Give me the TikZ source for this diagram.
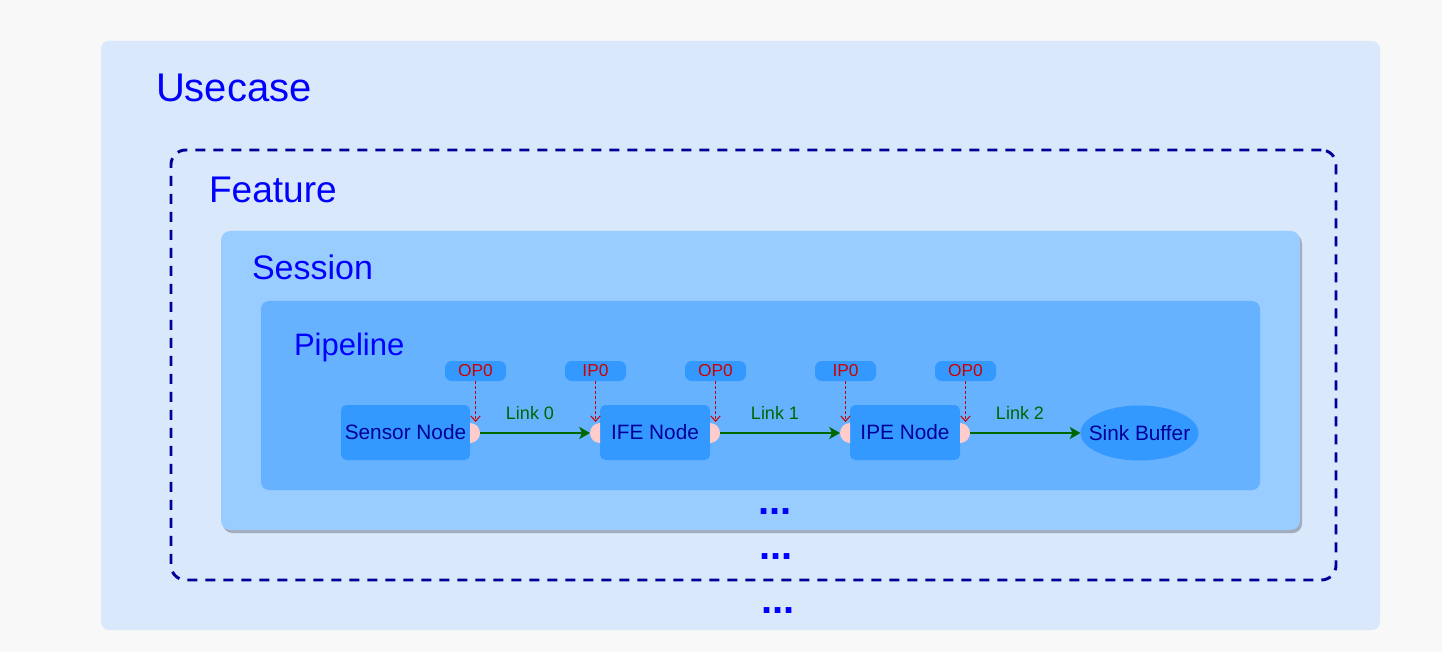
\documentclass[tikz,border=0pt]{standalone}
\usepackage{fontspec}
\setmainfont{Liberation Sans}
\usetikzlibrary{arrows.meta,shapes.geometric}
\definecolor{bgc}{HTML}{F8F8F8}
\definecolor{usecasec}{HTML}{DAE8FC}
\definecolor{sessionc}{HTML}{99CCFF}
\definecolor{pipelinec}{HTML}{66B2FF}
\definecolor{nodec}{HTML}{3399FF}
\definecolor{portc}{HTML}{FFCCCC}
\definecolor{navyc}{HTML}{000099}
\definecolor{titlec}{HTML}{0000FF}
\definecolor{redc}{HTML}{CC0000}
\definecolor{greenc}{HTML}{006600}
\definecolor{shadowc}{HTML}{A3ACBC}
\begin{document}
\begin{tikzpicture}[x=0.75pt,y=-0.75pt,
  box/.style={inner sep=0pt, outer sep=0pt, draw=none},
  title/.style={inner sep=0pt, outer sep=0pt, text=titlec, anchor=base west},
  procnode/.style={box, fill=nodec, rounded corners=4pt, minimum height=41.25pt,
      text=navyc, font=\fontsize{15.6}{18}\selectfont},
  portlabel/.style={box, fill=nodec, rounded corners=5pt, minimum width=45.75pt,
      minimum height=15pt, text=redc, font=\fontsize{13}{15}\selectfont},
  portshape/.style={fill=portc},
  link/.style={draw=greenc, line width=1.5pt, -{Stealth[length=8pt,width=9pt,inset=2pt]}},
  linklabel/.style={inner sep=0pt, text=greenc, font=\fontsize{13.5}{16}\selectfont},
  portarrow/.style={draw=redc, line width=0.75pt, dash pattern=on 2.2pt off 1.6pt,
      -{Straight Barb[length=4pt,width=7pt,line width=0.75pt]}},
  dots/.style={inner sep=0pt, text=titlec, anchor=base, font=\fontsize{30}{36}\selectfont\bfseries}
]
\useasboundingbox (0,0) rectangle (1442,652);
\fill[bgc] (0,0) rectangle (1442,652);

% Usecase
\node[box, fill=usecasec, rounded corners=6pt, minimum width=959.25pt, minimum height=441.75pt]
  (usecase) at (740.5,335.5) {};
\node[title, font=\fontsize{30}{36}\selectfont] (usecaselabel) at (156,102) {Usecase};

% Feature
\node[box, draw=navyc, line width=2.2pt, dash pattern=on 7.5pt off 6pt, rounded corners=11pt,
  minimum width=873.75pt, minimum height=322.5pt] (feature) at (753.5,365) {};
\node[title, font=\fontsize{27.8}{33}\selectfont] (featurelabel) at (209,203) {Feature};

% Session
\node[box, fill=shadowc, rounded corners=7pt, minimum width=809.25pt, minimum height=224.25pt]
  (sessionshadow) at (762.5,383.5) {};
\node[box, fill=sessionc, rounded corners=7pt, minimum width=809.25pt, minimum height=224.25pt]
  (session) at (760.5,380.5) {};
\node[title, font=\fontsize{25.5}{30}\selectfont] (sessionlabel) at (252,280) {Session};

% Pipeline
\node[box, fill=pipelinec, rounded corners=6pt, minimum width=749.25pt, minimum height=141.75pt]
  (pipeline) at (760.5,395.5) {};
\node[title, font=\fontsize{23.25}{28}\selectfont] (pipelinelabel) at (294,355) {Pipeline};

% Processing nodes
\node[procnode, minimum width=96.75pt] (sensor) at (405.5,432.5) {Sensor Node};
\node[procnode, minimum width=82.5pt] (ife) at (655,432.5) {IFE Node};
\node[procnode, minimum width=82.5pt] (ipe) at (905,432.5) {IPE Node};
\node[ellipse, draw=none, fill=nodec, inner xsep=-14pt, inner ysep=0pt, outer sep=0pt,
  minimum width=88.5pt, minimum height=41.25pt, text=navyc,
  font=\fontsize{15.6}{18}\selectfont] (sink) at (1139.5,433) {Sink Buffer};

% Ports
\fill[portshape] (470,423) -- (470,443) arc[start angle=-90, end angle=90, radius=7.5pt] -- cycle;
\fill[portshape] (600,423) -- (600,443) arc[start angle=-90, end angle=-270, radius=7.5pt] -- cycle;
\fill[portshape] (710,423) -- (710,443) arc[start angle=-90, end angle=90, radius=7.5pt] -- cycle;
\fill[portshape] (850,423) -- (850,443) arc[start angle=-90, end angle=-270, radius=7.5pt] -- cycle;
\fill[portshape] (960,423) -- (960,443) arc[start angle=-90, end angle=90, radius=7.5pt] -- cycle;

\coordinate (sensorOut) at (480,433);
\coordinate (ifeIn) at (590,433);
\coordinate (ifeOut) at (720,433);
\coordinate (ipeIn) at (840,433);
\coordinate (ipeOut) at (970,433);

\coordinate (sensorOutTop) at (475.5,422);
\coordinate (ifeInTop) at (595.5,422);
\coordinate (ifeOutTop) at (715.5,422);
\coordinate (ipeInTop) at (845.5,422);
\coordinate (ipeOutTop) at (965.5,422);

% Port labels
\node[portlabel] (op1) at (475.5,371) {OP0};
\node[portlabel] (ip1) at (595.5,371) {IP0};
\node[portlabel] (op2) at (715.5,371) {OP0};
\node[portlabel] (ip2) at (845.5,371) {IP0};
\node[portlabel] (op3) at (965.5,371) {OP0};

\draw[portarrow] (op1.south) -- (sensorOutTop);
\draw[portarrow] (ip1.south) -- (ifeInTop);
\draw[portarrow] (op2.south) -- (ifeOutTop);
\draw[portarrow] (ip2.south) -- (ipeInTop);
\draw[portarrow] (op3.south) -- (ipeOutTop);

% Links
\draw[link] (sensorOut) -- (ifeIn);
\draw[link] (ifeOut) -- (ipeIn);
\draw[link] (ipeOut) -- (sink.west);
\node[linklabel] (link0) at (530,413) {Link 0};
\node[linklabel] (link1) at (775,413) {Link 1};
\node[linklabel] (link2) at (1020,413) {Link 2};

% Ellipses
\node[dots] (dots1) at (775,514) {...};
\node[dots] (dots2) at (776,559) {...};
\node[dots] (dots3) at (778,613) {...};
\end{tikzpicture}
\end{document}
